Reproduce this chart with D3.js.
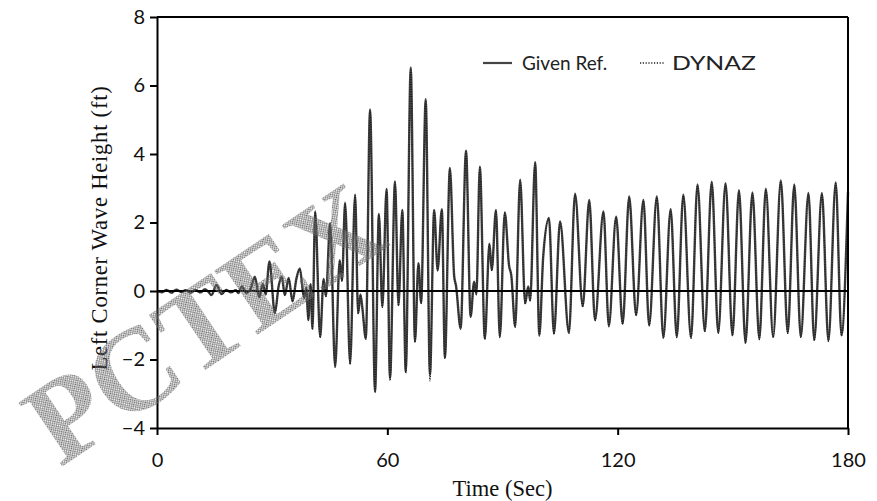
<!DOCTYPE html>
<html><head><meta charset="utf-8">
<script src="https://cdn.jsdelivr.net/npm/d3@7"></script>
<style>body{margin:0;background:#fff}svg{display:block}</style>
</head><body><svg id="chart" width="877" height="501"></svg>
<script>
// ---- data ----
const times = [0,1.2,2.5,3.8,5.0,6.3,7.5,8.8,10.0,11.3,12.5,13.2,14.2,15.5,16.8,18.0,19.3,20.5,21.2,22.1,23.3,24.4,25.5,26.6,27.6,28.3,29.3,30.7,31.7,32.5,33.3,34.3,35.3,36.3,37.2,38.3,38.9,39.4,40.0,40.5,41.2,42.5,43.4,44.0,45.1,46.4,47.6,48.2,49.0,50.3,51.6,52.4,53.0,53.5,54.4,55.5,56.8,57.8,58.7,59.8,60.7,62.0,62.9,63.9,64.8,66.1,67.2,68.1,68.8,70.0,71.1,72.2,73.1,74.2,75.0,76.3,77.4,77.9,79.1,80.5,81.7,82.6,83.2,84.1,85.4,86.6,87.2,88.3,89.3,90.6,91.7,92.3,93.3,94.6,95.9,96.7,97.2,98.5,99.6,100.6,102.1,103.4,105.0,107.3,108.9,110.9,112.6,114.1,116.3,117.7,119.6,121.3,123.0,124.8,126.7,128.2,130.2,131.9,133.8,135.4,137.1,139.1,140.8,142.7,144.5,146.2,148.1,149.9,151.6,153.3,155.1,156.9,158.6,160.5,162.5,164.3,166.0,167.7,169.7,171.2,173.2,174.9,176.8,178.3,180.0];
const givenRef = [0.00,-0.04,0.03,-0.05,0.04,-0.03,0.02,-0.05,0.03,-0.04,0.05,0.00,-0.12,0.18,-0.09,0.03,-0.04,0.02,-0.06,0.13,-0.05,0.06,0.42,-0.18,0.20,-0.10,0.86,-0.65,0.15,0.42,-0.12,0.38,-0.30,0.35,0.66,-0.20,0.10,-0.85,0.20,-1.10,2.32,-1.34,0.35,-0.15,1.98,-2.21,0.90,0.30,2.58,-2.12,2.81,-0.65,-0.10,-0.50,-1.39,5.30,-2.95,2.25,-0.46,2.98,-2.55,3.20,-0.41,2.37,-2.36,6.53,-1.48,0.81,-0.35,5.60,-2.45,2.37,0.61,2.39,-1.95,3.59,0.45,0.15,-1.09,4.10,-0.75,0.27,-0.09,3.63,-1.39,1.38,0.61,2.37,-1.34,2.29,0.75,0.45,-1.04,3.25,-0.36,0.13,-0.28,3.76,-1.29,1.00,2.13,-1.24,2.03,-1.22,2.84,-0.44,2.66,-0.85,2.32,-1.02,2.17,-0.95,2.76,-0.70,2.66,-1.00,2.76,-1.36,2.39,-1.34,2.81,-1.36,3.11,-1.17,3.19,-1.22,3.15,-1.29,2.94,-1.51,2.88,-1.40,2.99,-1.34,3.23,-1.22,3.11,-1.34,2.86,-1.43,2.86,-1.45,3.17,-1.29,2.90];
const dynaz = [0.00,-0.03,0.04,-0.05,0.03,-0.04,0.03,-0.04,0.04,-0.05,0.04,0.01,-0.11,0.17,-0.10,0.04,-0.05,0.03,-0.05,0.12,-0.06,0.07,0.40,-0.17,0.21,-0.09,0.84,-0.66,0.14,0.41,-0.13,0.37,-0.31,0.34,0.64,-0.21,0.09,-0.86,0.19,-1.12,2.30,-1.36,0.33,-0.16,1.96,-2.23,0.88,0.28,2.55,-2.14,2.79,-0.67,-0.12,-0.52,-1.41,5.26,-2.92,2.22,-0.48,2.95,-2.62,3.17,-0.43,2.34,-2.40,6.48,-1.50,0.79,-0.37,5.56,-2.62,2.34,0.59,2.36,-1.97,3.56,0.43,0.13,-1.11,4.07,-0.77,0.25,-0.11,3.60,-1.41,1.36,0.59,2.34,-1.36,2.27,0.73,0.43,-1.06,3.22,-0.38,0.11,-0.30,3.73,-1.31,0.98,2.11,-1.26,2.01,-1.24,2.81,-0.46,2.63,-0.87,2.30,-1.04,2.15,-0.97,2.73,-0.72,2.63,-1.02,2.73,-1.38,2.37,-1.36,2.78,-1.38,3.08,-1.19,3.16,-1.24,3.12,-1.31,2.91,-1.53,2.85,-1.42,2.96,-1.36,3.20,-1.24,3.08,-1.36,2.83,-1.45,2.83,-1.47,3.14,-1.31,2.88];
const xTicks = [0, 60, 120, 180];
const yTicks = [-4, -2, 0, 2, 4, 6, 8];
const seriesNames = ["Given Ref.", "DYNAZ"];
const xTitle = "Time (Sec)";
const yTitle = "Left Corner Wave Height (ft)";
const watermark = "PCTEX";

// ---- layout ----
const svg = d3.select("#chart");
const W = 877, H = 501;
const m = {left:157, right:29, top:17, bottom:73};
const x = d3.scaleLinear().domain([0,180]).range([m.left, W-m.right]);
const y = d3.scaleLinear().domain([-4,8]).range([H-m.bottom, m.top]);

const defs = svg.append("defs");
const pat = defs.append("pattern").attr("id","hatch").attr("patternUnits","userSpaceOnUse")
  .attr("width",3).attr("height",3);
pat.append("rect").attr("x",0).attr("y",0).attr("width",1.5).attr("height",1.5).attr("fill","#6a6a6a");
pat.append("rect").attr("x",1.5).attr("y",1.5).attr("width",1.5).attr("height",1.5).attr("fill","#6a6a6a");

const numFont = "Lato, 'Open Sans', sans-serif";
const serif = "'Liberation Serif', 'Times New Roman', serif";

// data lines
const mk = vals => times.map((t,i)=>({t, v: vals[i]}));
const line = d3.line().x(d=>x(d.t)).y(d=>y(d.v)).curve(d3.curveMonotoneX);
svg.append("path").datum(mk(givenRef)).attr("d",line)
  .attr("fill","none").attr("stroke","#444").attr("stroke-width",2.4).attr("stroke-linejoin","round");
svg.append("path").datum(mk(dynaz)).attr("d",line)
  .attr("fill","none").attr("stroke","#1a1a1a").attr("stroke-width",1.3).attr("stroke-dasharray","1,1.4");

// zero line
svg.append("line").attr("x1",x(0)).attr("x2",x(180)).attr("y1",y(0)).attr("y2",y(0))
  .attr("stroke","#000").attr("stroke-width",2);

// axes
const xAxis = d3.axisBottom(x).tickValues(xTicks).tickSize(7).tickSizeOuter(0).tickPadding(18);
const gx = svg.append("g").attr("transform",`translate(0,${y(-4)})`).call(xAxis);
const yAxis = d3.axisLeft(y).tickValues(yTicks).tickSize(7).tickSizeOuter(0).tickPadding(5);
const gy = svg.append("g").attr("transform",`translate(${x(0)},0)`).call(yAxis);
[gx,gy].forEach(g=>{
  g.select(".domain").attr("stroke","#000").attr("stroke-width",2);
  g.selectAll(".tick line").attr("stroke","#000").attr("stroke-width",2);
  g.selectAll(".tick text").attr("font-family",numFont).attr("font-size",20).attr("fill","#111");
});
// top and right frame
svg.append("line").attr("x1",x(0)).attr("x2",x(180)).attr("y1",y(8)).attr("y2",y(8)).attr("stroke","#000").attr("stroke-width",2);
svg.append("line").attr("x1",x(180)).attr("x2",x(180)).attr("y1",y(8)).attr("y2",y(-4)).attr("stroke","#000").attr("stroke-width",2);

// titles
svg.append("text").attr("x",(x(0)+x(180))/2).attr("y",496).attr("text-anchor","middle")
  .attr("font-family",serif).attr("font-size",22.5).attr("fill","#111").text(xTitle);
svg.append("text").attr("transform",`translate(107,228) rotate(-90)`).attr("text-anchor","middle")
  .attr("font-family",serif).attr("font-size",22.5).attr("letter-spacing",0.8).attr("fill","#111").text(yTitle);

// legend
const lg = svg.append("g");
lg.append("line").attr("x1",483).attr("x2",512).attr("y1",63).attr("y2",63).attr("stroke","#444").attr("stroke-width",2.2);
lg.append("text").attr("x",522).attr("y",70).attr("font-family",numFont).attr("font-size",19).attr("fill","#222").text(seriesNames[0]);
lg.append("line").attr("x1",640).attr("x2",664).attr("y1",63).attr("y2",63).attr("stroke","#222").attr("stroke-width",1.4).attr("stroke-dasharray","1.2,1.6");
lg.append("text").attr("x",672).attr("y",70).attr("font-family",numFont).attr("font-size",19.5)
  .attr("textLength",84).attr("lengthAdjust","spacingAndGlyphs").attr("fill","#222").text(seriesNames[1]);

// watermark
svg.append("text").attr("transform","translate(60,468) rotate(-34)")
  .attr("font-family",serif).attr("font-weight","bold")
  .attr("font-size",118).attr("fill","url(#hatch)").text(watermark);
</script></body></html>
